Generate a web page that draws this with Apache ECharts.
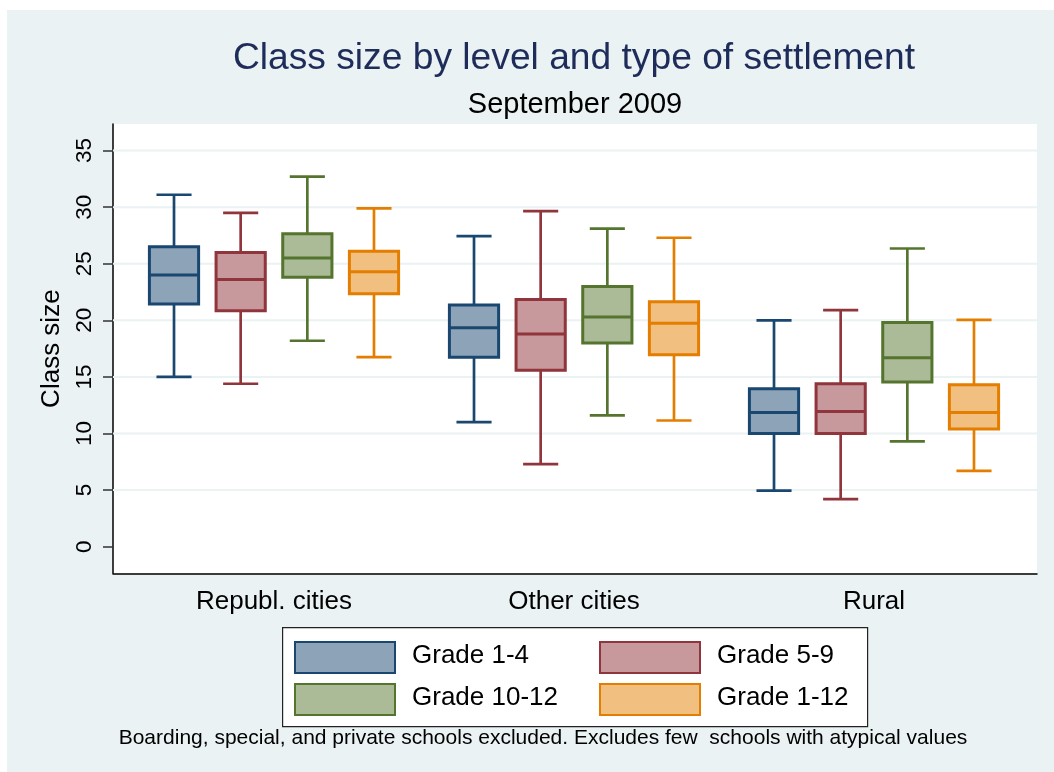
<!DOCTYPE html>
<html>
<head>
<meta charset="utf-8">
<script src="https://cdn.jsdelivr.net/npm/echarts@6/dist/echarts.min.js"></script>
<style>
html,body{margin:0;padding:0;background:#fff;}
#chart{width:1054px;height:772px;}
</style>
</head>
<body>
<div id="chart"></div>
<script>
// ---- data ----
const categories = ['Republ. cities', 'Other cities', 'Rural'];
const levels = ['Grade 1-4', 'Grade 5-9', 'Grade 10-12', 'Grade 1-12'];
// each entry: [lower whisker, Q1, median, Q3, upper whisker] per category
const grade1to4 = [[15.0, 21.45, 24.0, 26.5, 31.1], [11.0, 16.75, 19.35, 21.35, 27.45], [4.95, 10.0, 11.85, 13.95, 20.0]];
const grade5to9 = [[14.4, 20.85, 23.6, 26.0, 29.5], [7.3, 15.6, 18.8, 21.85, 29.65], [4.2, 10.0, 11.95, 14.4, 20.9]];
const grade10to12 = [[18.2, 23.8, 25.5, 27.65, 32.7], [11.6, 18.0, 20.3, 23.0, 28.1], [9.3, 14.55, 16.7, 19.8, 26.35]];
const grade1to12 = [[16.75, 22.35, 24.3, 26.1, 29.9], [11.15, 16.95, 19.75, 21.65, 27.3], [6.7, 10.4, 11.85, 14.3, 20.05]];
const yTicks = [0, 5, 10, 15, 20, 25, 30, 35];
const gridValues = [5, 10, 15, 20, 25, 30, 35];

const seriesStats = [grade1to4, grade5to9, grade10to12, grade1to12];
const lineColors = ['#1A476F', '#90353B', '#55752F', '#E37E00'];
const fillColors = ['#8DA3B8', '#C8999C', '#ABBA97', '#F1BF80'];
const FONT = '"Liberation Sans", Arial, sans-serif';

const chart = echarts.init(document.getElementById('chart'), null, {renderer: 'canvas'});

function boxSeries(si) {
  return {
    type: 'custom',
    name: levels[si],
    xAxisIndex: 1,
    yAxisIndex: 1,
    z: 5,
    itemStyle: {color: fillColors[si], borderColor: lineColors[si], borderWidth: 2},
    encode: {x: 0, y: [1, 2, 3, 4, 5]},
    data: seriesStats[si].map((d, k) => [k].concat(d)),
    renderItem: function (params, api) {
      const cat = api.value(0);
      const band = api.size([1, 0])[0];
      const cx = api.coord([cat, 0])[0] + (si - 1.5) * band * 0.2222;
      const bw = band * 0.164;
      const cw = band * 0.117;
      const yv = k => api.coord([cat, api.value(k)])[1];
      const yLow = yv(1), yQ1 = yv(2), yMed = yv(3), yQ3 = yv(4), yHigh = yv(5);
      const ls = {stroke: lineColors[si], lineWidth: 2.7};
      return {
        type: 'group',
        children: [
          {type: 'line', shape: {x1: cx, y1: yHigh, x2: cx, y2: yQ3}, style: ls},
          {type: 'line', shape: {x1: cx, y1: yQ1, x2: cx, y2: yLow}, style: ls},
          {type: 'line', shape: {x1: cx - cw / 2, y1: yHigh, x2: cx + cw / 2, y2: yHigh}, style: ls},
          {type: 'line', shape: {x1: cx - cw / 2, y1: yLow, x2: cx + cw / 2, y2: yLow}, style: ls},
          {type: 'rect', shape: {x: cx - bw / 2, y: yQ3, width: bw, height: yQ1 - yQ3},
            style: {fill: fillColors[si], stroke: lineColors[si], lineWidth: 3}},
          {type: 'line', shape: {x1: cx - bw / 2, y1: yMed, x2: cx + bw / 2, y2: yMed}, style: {stroke: lineColors[si], lineWidth: 3}}
        ]
      };
    }
  };
}

const series = [
  {
    type: 'custom',
    name: 'grid',
    xAxisIndex: 0,
    yAxisIndex: 0,
    z: 1,
    silent: true,
    encode: {y: 0},
    data: gridValues.map(v => [v]),
    renderItem: function (params, api) {
      const v = api.value(0);
      const p1 = api.coord([0, v]);
      const p2 = api.coord([1, v]);
      return {type: 'line', shape: {x1: p1[0], y1: p1[1], x2: p2[0], y2: p2[1]},
        style: {stroke: '#EAF2F3', lineWidth: 2}};
    }
  }
].concat(levels.map((_, i) => boxSeries(i)));

const option = {
  backgroundColor: '#EAF2F3',
  animation: false,
  textStyle: {fontFamily: FONT},
  title: [
    {text: 'Class size by level and type of settlement', left: 574, top: 40, textAlign: 'center', padding: 0,
      textStyle: {fontSize: 37.2, fontWeight: 'normal', color: '#1E2C5A', fontFamily: FONT}},
    {text: 'September 2009', left: 575, top: 90, textAlign: 'center', padding: 0,
      textStyle: {fontSize: 29, fontWeight: 'normal', color: '#000', fontFamily: FONT}},
    {text: 'Boarding, special, and private schools excluded. Excludes few  schools with atypical values', left: 543, top: 728, textAlign: 'center', padding: 0,
      textStyle: {fontSize: 21, fontWeight: 'normal', color: '#000', fontFamily: FONT}}
  ],
  graphic: [
    {type: 'rect', left: 0, top: 0, shape: {width: 1054, height: 10}, style: {fill: '#fff'}, silent: true},
    {type: 'rect', left: 0, top: 0, shape: {width: 7, height: 772}, style: {fill: '#fff'}, silent: true},
    {type: 'rect', left: 282, top: 627, z: 1, shape: {x: 0, y: 0, width: 585, height: 99}, style: {fill: '#fff', stroke: '#222', lineWidth: 1.2}, silent: true}
  ],
  legend: {
    left: 294, top: 641, padding: 0, orient: 'horizontal', width: 620,
    itemWidth: 100, itemHeight: 31, itemGap: 9, selectedMode: false, icon: 'rect',
    formatter: '{a|{name}}',
    textStyle: {fontSize: 26, color: '#000', fontFamily: FONT,
      rich: {a: {width: 178, padding: [0, 0, 3, 12], fontSize: 26, lineHeight: 28, color: '#000', fontFamily: FONT}}},
    data: levels.map((n, i) => ({name: n, itemStyle: {color: fillColors[i], borderColor: lineColors[i], borderWidth: 2}}))
  },
  grid: [
    {left: 113, right: 17, top: 124, bottom: 198.7, show: true, backgroundColor: '#fff', borderWidth: 0},
    {left: 124, right: 30, top: 124, bottom: 198.7}
  ],
  xAxis: [
    {gridIndex: 0, type: 'value', min: 0, max: 1,
      axisLine: {show: true, onZero: false, lineStyle: {color: '#000', width: 1.5}},
      axisTick: {show: false}, axisLabel: {show: false}, splitLine: {show: false}},
    {gridIndex: 1, type: 'category', data: categories,
      axisLine: {show: false}, axisTick: {show: false}, splitLine: {show: false},
      axisLabel: {fontSize: 26, color: '#000', margin: 16, fontFamily: FONT}}
  ],
  yAxis: [
    {gridIndex: 0, type: 'value', min: -2.35, max: 37.35,
      axisLine: {show: true, lineStyle: {color: '#000', width: 1.5}},
      axisTick: {show: true, length: 10, customValues: yTicks, lineStyle: {color: '#333', width: 1.5}},
      axisLabel: {customValues: yTicks, rotate: 90, fontSize: 22.5, color: '#000', margin: 17,
        align: 'center', verticalAlign: 'bottom', fontFamily: FONT},
      splitLine: {show: false},
      name: 'Class size', nameLocation: 'middle', nameGap: 45, nameRotate: 90,
      nameTextStyle: {fontSize: 26, color: '#000', align: 'center', verticalAlign: 'bottom', fontFamily: FONT}},
    {gridIndex: 1, type: 'value', min: -2.35, max: 37.35, show: false}
  ],
  series: series
};
chart.setOption(option);
</script>
</body>
</html>
